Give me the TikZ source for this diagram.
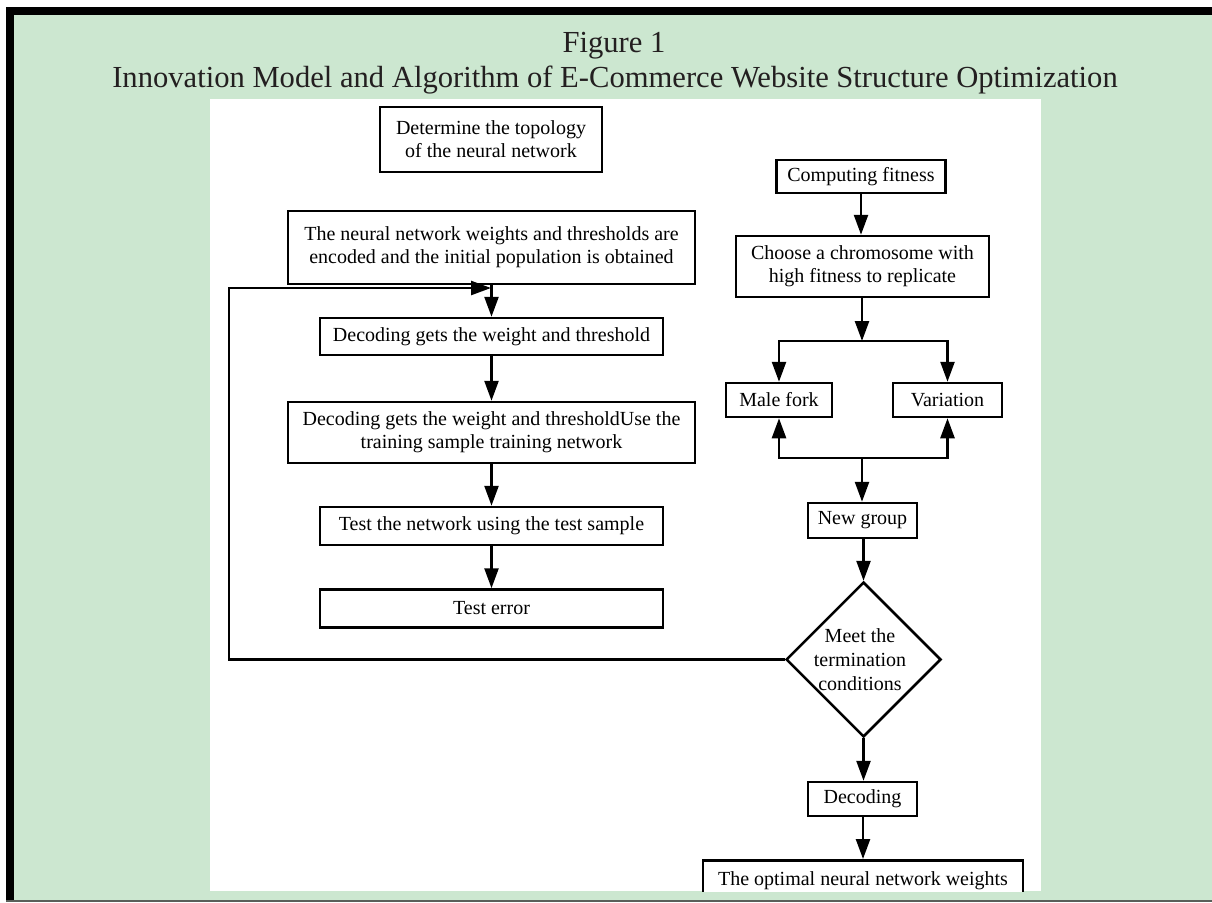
\documentclass[tikz,border=0pt]{standalone}
\usepackage{fontspec}
\setmainfont{Liberation Serif}
\usetikzlibrary{arrows.meta,shapes.geometric}
\definecolor{bggreen}{RGB}{204,231,208}
\definecolor{titlegray}{RGB}{35,31,32}
\definecolor{edgegray}{RGB}{90,95,90}
\begin{document}
\begin{tikzpicture}[x=1pt,y=-1pt,
  box/.style={draw=black,line width=2.5pt,fill=white,inner sep=0pt,align=center,
    font=\fontsize{20}{23}\selectfont,text=black},
  arr/.style={line width=2.5pt,-{Triangle[length=20pt,width=14pt]}},
  ln/.style={line width=2.5pt},
  ttl/.style={font=\fontsize{30.6}{36}\selectfont,text=titlegray,anchor=base,inner sep=0pt}]
\useasboundingbox (0,0) rectangle (1212,902);
% frame
\fill[white] (0,0) rectangle (1212,902);
\fill[bggreen] (6,7) rectangle (1212,901);
\fill[black] (6,7) rectangle (1212,15);
\fill[black] (6,7) rectangle (14,902);
\fill[edgegray] (6,899.5) rectangle (1212,902);
% title
\node[ttl] (t1) at (614,52) {Figure 1};
\node[ttl] (t2) at (615,87) {Innovation Model and Algorithm of E-Commerce Website Structure Optimization};
% panel
\fill[white] (210,99) rectangle (1041,891);
% left column
\node[box,minimum width=222pt,minimum height=65pt] (b1) at (491,139.5) {Determine the topology\\of the neural network};
\node[box,minimum width=407pt,minimum height=73pt] (b2) at (491.5,247.5) {The neural network weights and thresholds are\\encoded and the initial population is obtained};
\node[box,minimum width=343pt,minimum height=37pt] (b3) at (491.5,336.5) {Decoding gets the weight and threshold};
\node[box,minimum width=407pt,minimum height=61pt] (b4) at (491.5,432.5) {Decoding gets the weight and thresholdUse the\\training sample training network};
\node[box,minimum width=343pt,minimum height=38pt] (b5) at (491.5,526) {Test the network using the test sample};
\node[box,minimum width=343pt,minimum height=38pt] (b6) at (491.5,608.5) {Test error};
% right column
\node[box,minimum width=169pt,minimum height=33pt] (fit) at (861,176.5) {Computing fitness};
\node[box,minimum width=253pt,minimum height=61pt] (ch) at (862.5,266.5) {Choose a chromosome with\\high fitness to replicate};
\node[box,minimum width=106pt,minimum height=34pt] (male) at (779,400) {Male fork};
\node[box,minimum width=109pt,minimum height=34pt] (var) at (947.5,400) {Variation};
\node[box,minimum width=109pt,minimum height=35pt] (ng) at (862.5,520.5) {New group};
\node[draw=black,line width=2.5pt,fill=white,shape=diamond,inner sep=0pt,
      minimum width=155pt,minimum height=155pt] (dia) at (863.5,659.5) {};
\node[align=center,inner sep=0pt,font=\fontsize{20}{24}\selectfont] (diat) at (860,660) {Meet the\\termination\\conditions};
\node[box,minimum width=109pt,minimum height=34pt] (dec) at (862.5,799) {Decoding};
\begin{scope}
\clip (210,99) rectangle (1041,891);
\node[box,anchor=north,minimum width=320pt,text height=25pt,text depth=35pt] (opt) at (863,859) {The optimal neural network weights};
\end{scope}
% coordinates
\coordinate (lp1) at (229,659.5);
\coordinate (lp2) at (229,288);
\coordinate (lpin) at (491,288);
\coordinate (jt) at (862,341);
\coordinate (jb) at (862,458);
% connectors
\draw[arr] (b2.south) -- (b3.north);
\draw[arr] (b3.south) -- (b4.north);
\draw[arr] (b4.south) -- (b5.north);
\draw[arr] (b5.south) -- (b6.north);
\draw[arr] (dia.west) -- (lp1) -- (lp2) -- (lpin);
\draw[arr] (fit.south) -- (fit.south |- ch.north);
\draw[arr] (ch.south -| jt) -- (jt);
\draw[arr] (jt) -| (male.north);
\draw[arr] (jt) -| (var.north);
\draw[arr] (jb) -| (male.south);
\draw[arr] (jb) -| (var.south);
\draw[arr] (jb) -- (jb |- ng.north);
\draw[arr] (ng.south -| dia.north) -- (dia.north);
\draw[arr] (dia.south) -- (dia.south |- dec.north);
\draw[arr] (dec.south -| opt.north) -- (opt.north);
\end{tikzpicture}
\end{document}
